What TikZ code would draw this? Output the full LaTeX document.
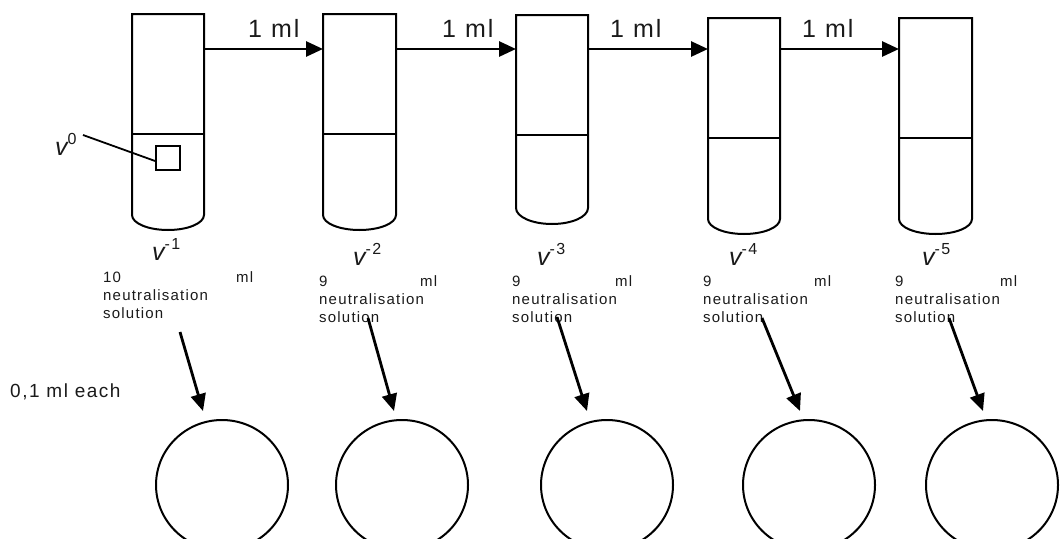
\documentclass[tikz,border=0pt]{standalone}
\usepackage{fontspec}
\setmainfont{Liberation Sans}[LetterSpace=8]
\usetikzlibrary{arrows.meta,shapes.geometric}
\definecolor{ink}{HTML}{1A1A1A}
\newcommand\supnum[1]{\raisebox{11pt}{\fontsize{16}{16}\selectfont\upshape #1}}
\newcommand\sol[2]{\begin{tabular}[t]{@{}l@{}}\makebox[#1][s]{#2\hfill ml}\\neutralisation\\solution\end{tabular}}
\begin{document}
\begin{tikzpicture}[x=1pt,y=-1pt,
  tube/.style={line width=2pt},
  flow/.style={line width=2.8pt,-{Triangle[length=17pt,width=15pt]}},
  dish/.style={draw,ellipse,line width=2pt,minimum width=132pt,minimum height=130pt,inner sep=0},
  big/.style={font=\fontsize{25}{28}\selectfont, text=ink, inner sep=0, anchor=base west},
  vlab/.style={font=\fontsize{25}{28}\selectfont\itshape, text=ink, inner sep=0, anchor=base west},
  small/.style={font=\fontsize{15}{18}\selectfont, text=ink, inner sep=0, anchor=base west},
  note/.style={font=\fontsize{19}{22}\selectfont, text=ink, inner sep=0, anchor=base west},
]
\useasboundingbox (0,0) rectangle (1062,538);
% tubes
\draw[tube] (132,215) -- (132,14) -- (204,14) -- (204,215) arc[start angle=0,end angle=180,x radius=36,y radius=15];
\draw[tube] (132,134) -- (204,134);
\draw[tube] (323,215) -- (323,14) -- (396,14) -- (396,215) arc[start angle=0,end angle=180,x radius=36.5,y radius=15];
\draw[tube] (323,134) -- (396,134);
\draw[tube] (516,208) -- (516,15) -- (588,15) -- (588,208) arc[start angle=0,end angle=180,x radius=36,y radius=16];
\draw[tube] (516,135) -- (588,135);
\draw[tube] (708,219) -- (708,18) -- (780,18) -- (780,219) arc[start angle=0,end angle=180,x radius=36,y radius=15];
\draw[tube] (708,138) -- (780,138);
\draw[tube] (899,219) -- (899,18) -- (972,18) -- (972,219) arc[start angle=0,end angle=180,x radius=36.5,y radius=15];
\draw[tube] (899,138) -- (972,138);
% transfer points
\coordinate (t1e) at (204,49);
\coordinate (t2w) at (323,49);
\coordinate (t2e) at (396,49);
\coordinate (t3w) at (516,49);
\coordinate (t3e) at (588,49);
\coordinate (t4w) at (708,49);
\coordinate (t4e) at (780,49);
\coordinate (t5w) at (899,49);
\draw[flow] (t1e) -- (t2w);
\draw[flow] (t2e) -- (t3w);
\draw[flow] (t3e) -- (t4w);
\draw[flow] (t4e) -- (t5w);
\node[big] (m1) at (248,37) {1 ml};
\node[big] (m2) at (442,37) {1 ml};
\node[big] (m3) at (610,37) {1 ml};
\node[big] (m4) at (802,37) {1 ml};
% sample square
\node[draw, line width=1.8pt, minimum size=24pt, inner sep=0] (sq) at (168,158) {};
\node[vlab] (v0) at (55,155) {v\supnum{0}};
\coordinate (v0end) at (83,135);
\draw[line width=1.8pt] (v0end) -- ([yshift=-3pt]sq.west);
% labels
\node[vlab] (v1) at (152,260) {v\supnum{-1}};
\node[vlab] (v2) at (353,265) {v\supnum{-2}};
\node[vlab] (v3) at (537,265) {v\supnum{-3}};
\node[vlab] (v4) at (729,265) {v\supnum{-4}};
\node[vlab] (v5) at (922,265) {v\supnum{-5}};
\node[small] (s1) at (103,282) {\sol{150pt}{10}};
\node[small] (s2) at (319,286) {\sol{118pt}{9}};
\node[small] (s3) at (512,286) {\sol{120pt}{9}};
\node[small] (s4) at (703,286) {\sol{128pt}{9}};
\node[small] (s5) at (895,286) {\sol{122pt}{9}};
\node[note] (each) at (10,397) {0,1 ml each};
% dishes
\node[dish] (c1) at (222,485) {};
\node[dish] (c2) at (402,485) {};
\node[dish] (c3) at (607,485) {};
\node[dish] (c4) at (809,485) {};
\node[dish] (c5) at (992,485) {};
% plating arrows
\coordinate (p1s) at (180,332); \coordinate (p1e) at (203,411);
\coordinate (p2s) at (368,318); \coordinate (p2e) at (394,411);
\coordinate (p3s) at (557,317); \coordinate (p3e) at (587,411);
\coordinate (p4s) at (762,318); \coordinate (p4e) at (800,411);
\coordinate (p5s) at (949,318); \coordinate (p5e) at (983,411);
\draw[flow] (p1s) -- (p1e);
\draw[flow] (p2s) -- (p2e);
\draw[flow] (p3s) -- (p3e);
\draw[flow] (p4s) -- (p4e);
\draw[flow] (p5s) -- (p5e);
\end{tikzpicture}
\end{document}
